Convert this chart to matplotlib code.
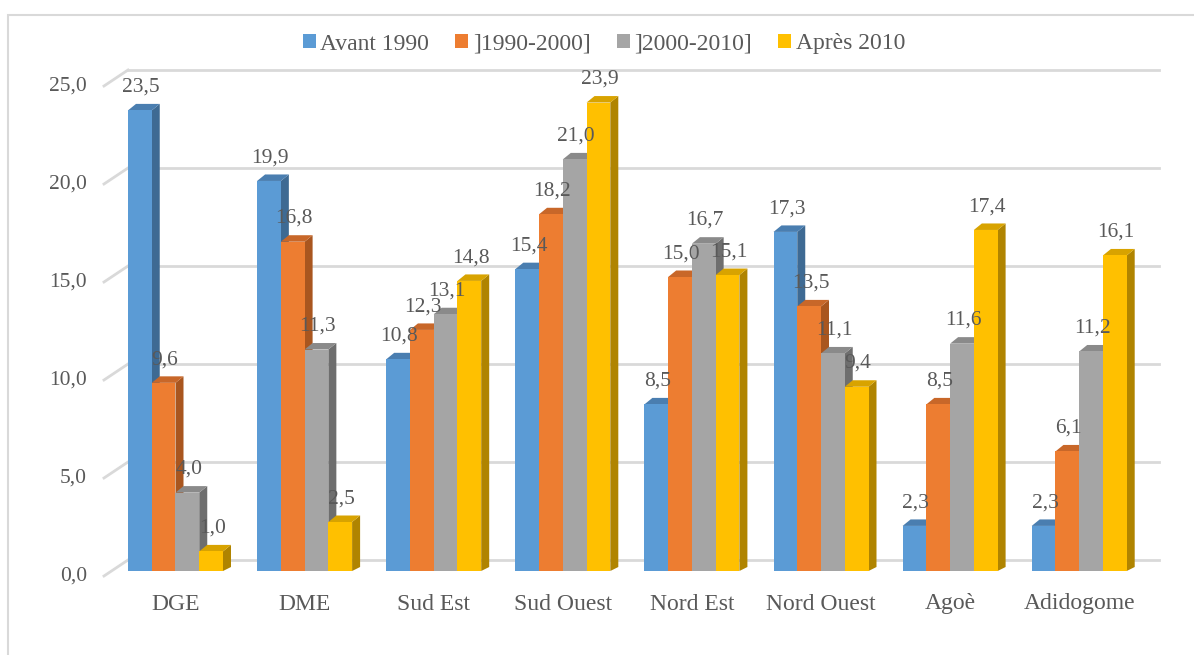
import matplotlib
matplotlib.use("Agg")
import matplotlib.pyplot as plt
from matplotlib.patches import Polygon, Rectangle

plt.rcParams['font.family'] = ['Liberation Serif', 'DejaVu Serif']

categories = ["DGE", "DME", "Sud Est", "Sud Ouest", "Nord Est", "Nord Ouest", "Agoè", "Adidogome"]
series = ["Avant 1990", "]1990-2000]", "]2000-2010]", "Après 2010"]
avant_1990 = [23.5, 19.9, 10.8, 15.4, 8.5, 17.3, 2.3, 2.3]
p1990_2000 = [9.6, 16.8, 12.3, 18.2, 15.0, 13.5, 8.5, 6.1]
p2000_2010 = [4.0, 11.3, 13.1, 21.0, 16.7, 11.1, 11.6, 11.2]
apres_2010 = [1.0, 2.5, 14.8, 23.9, 15.1, 9.4, 17.4, 16.1]
yticks = [0, 5, 10, 15, 20, 25]

# front, side, top colours
colors = [("#5B9BD5", "#3E6A93", "#4A7EB0"),
          ("#ED7D31", "#A9561F", "#C86729"),
          ("#A5A5A5", "#6E6E6E", "#8A8A8A"),
          ("#FFC000", "#B08400", "#D8A300")]
text_col = "#595959"
grid_col = "#D9D9D9"

W, H = 1194, 655
fig = plt.figure(figsize=(W / 100, H / 100), dpi=100)

# pixel scale of the data axes
PX_X, PX_Y = 129.1, 19.6
X0, Y0 = 175.5, 576.0
xlim = (-0.6, 7.7)
ylim = (-1.0, 26.0)
left = X0 + PX_X * xlim[0]
right = X0 + PX_X * xlim[1]
bottom = Y0 - PX_Y * ylim[0]
top = Y0 - PX_Y * ylim[1]
ax = fig.add_axes([left / W, 1 - bottom / H, (right - left) / W, (bottom - top) / H])
ax.set_xlim(*xlim)
ax.set_ylim(*ylim)
ax.axis("off")

# outer frame of the chart area
fig.patches.append(Rectangle((8 / W, -0.05), 1.1, 1 - 15 / H + 0.05, transform=fig.transFigure,
                             fill=False, edgecolor=grid_col, linewidth=1.5))

# 3D back wall grid
wx, wy = 23 / PX_X, 16 / PX_Y
gx0 = (128 - X0) / PX_X
gx1 = (1159 - X0) / PX_X
sx = (104 - X0) / PX_X
for t in yticks:
    ax.plot([gx0, gx1], [t + wy, t + wy], color=grid_col, lw=2, zorder=1, clip_on=False)
    ax.plot([sx, gx0], [t, t + wy], color=grid_col, lw=2, zorder=1, clip_on=False)
    ax.text((87 - X0) / PX_X, t, f"{t:.1f}".replace(".", ","), ha="right", va="center",
            fontsize=15.5, color=text_col)

# bars
bw = 23.75 / PX_X
dx, dy, dyb = 8 / PX_X, 6.5 / PX_Y, 4 / PX_Y
base = 5 / PX_Y
values = [avant_1990, p1990_2000, p2000_2010, apres_2010]
z = 2
for i in range(len(categories)):
    for s, vals in enumerate(values):
        v = vals[i]
        x0 = i - 2 * bw + s * bw
        x1 = x0 + bw
        yt = base + v
        front, side, topc = colors[s]
        ax.add_patch(Polygon([(x1, base), (x1 + dx, base + dyb), (x1 + dx, yt + dy), (x1, yt)],
                             closed=True, facecolor=side, edgecolor="none", zorder=z))
        ax.add_patch(Polygon([(x0, yt), (x0 + dx, yt + dy), (x1 + dx, yt + dy), (x1, yt)],
                             closed=True, facecolor=topc, edgecolor="none", zorder=z + 1))
        ax.add_patch(Rectangle((x0, base), bw, v, facecolor=front, edgecolor="none", zorder=z + 2))
        z += 3
        ax.annotate(f"{v:.1f}".replace(".", ","), xy=((x0 + x1) / 2, yt), xytext=(1, 13.5),
                    textcoords="offset points", ha="center", va="baseline",
                    fontsize=15.5, color=text_col, zorder=200)
    ax.text(i, (Y0 - 604) / PX_Y, categories[i], ha="center", va="center",
            fontsize=17, color=text_col)

handles = [Rectangle((0, 0), 1, 1, facecolor=c[0], edgecolor="none") for c in colors]
fig.legend(handles, series, loc="center", bbox_to_anchor=(604 / W, 1 - 44 / H), ncol=4,
           frameon=False, fontsize=17, handlelength=0.55, handleheight=0.55,
           handletextpad=0.2, columnspacing=1.1, labelcolor=text_col)

fig.savefig("out.png", dpi=100, facecolor="white")
